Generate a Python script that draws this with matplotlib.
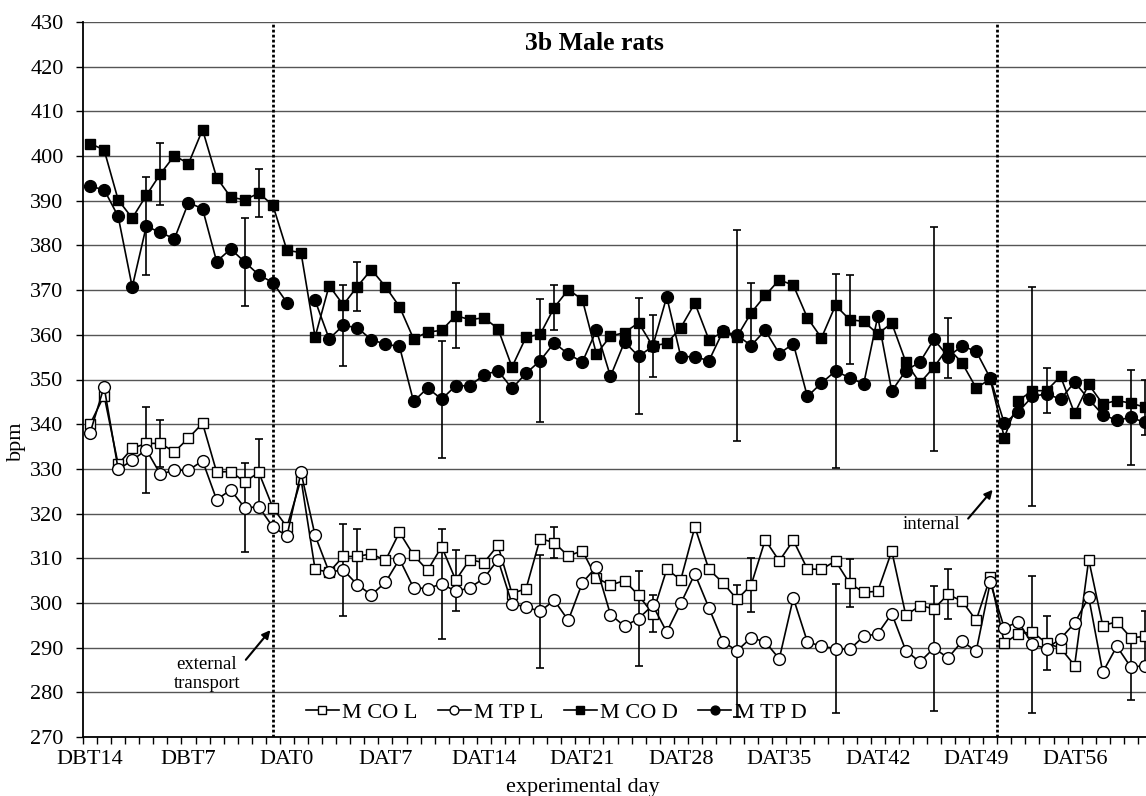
import numpy as np
import matplotlib
matplotlib.use('Agg')
import matplotlib.pyplot as plt

plt.rcParams['font.family'] = ['Liberation Serif', 'DejaVu Serif']

# heart rate (bpm), one value per experimental day, DBT14 ... DAT61
m_co_l = [340.0, 346.4, 331.0, 334.6, 335.7, 335.7, 333.8, 336.9, 340.2, 329.3,
          329.4, 327.1, 329.2, 321.3, 317.0, 327.7, 307.5, 306.9, 310.4, 310.4,
          311.0, 309.5, 315.8, 310.7, 307.3, 312.6, 305.1, 309.7, 309.0, 312.9,
          302.1, 303.2, 314.4, 313.5, 310.5, 311.7, 305.6, 304.0, 305.0, 301.7,
          297.6, 307.5, 305.2, 317.0, 307.5, 304.5, 300.8, 304.0, 314.1, 309.4,
          314.0, 307.6, 307.5, 309.4, 304.4, 302.4, 302.6, 311.6, 297.2, 299.4,
          298.7, 301.9, 300.4, 296.1, 305.8, 291.0, 293.1, 293.5, 291.0, 289.9,
          286.0, 309.7, 294.9, 295.8, 292.2, 292.5]
m_tp_l = [338.0, 348.4, 329.9, 331.9, 334.3, 328.8, 329.7, 329.7, 331.8, 323.1,
          325.3, 321.3, 321.5, 317.0, 315.0, 329.2, 315.1, 306.9, 307.4, 304.1,
          301.8, 304.6, 309.8, 303.4, 303.2, 304.3, 302.6, 303.4, 305.5, 309.7,
          299.8, 299.1, 298.1, 300.6, 296.1, 304.5, 308.1, 297.4, 294.8, 296.5,
          299.5, 293.5, 299.9, 306.5, 298.9, 291.3, 289.3, 292.2, 291.3, 287.5,
          301.1, 291.3, 290.3, 289.8, 289.6, 292.5, 293.1, 297.6, 289.3, 286.8,
          289.9, 287.7, 291.4, 289.2, 304.6, 294.4, 295.8, 290.7, 289.8, 292.0,
          295.5, 301.3, 284.5, 290.3, 285.6, 286.0]
m_co_d = [402.8, 401.4, 390.2, 386.1, 391.2, 396.0, 400.1, 398.3, 405.9, 395.2,
          390.8, 390.2, 391.7, 389.0, 378.9, 378.4, 359.5, 371.0, 366.7, 370.8,
          374.6, 370.8, 366.3, 359.1, 360.6, 361.0, 364.3, 363.4, 363.8, 361.4,
          352.8, 359.5, 360.1, 366.1, 370.1, 367.9, 355.7, 359.7, 360.5, 362.7,
          357.5, 358.1, 361.6, 367.1, 358.9, 360.6, 359.6, 364.9, 368.8, 372.3,
          371.1, 363.8, 359.3, 366.6, 363.4, 363.0, 360.2, 362.6, 353.9, 349.2,
          352.8, 357.1, 353.7, 348.1, 350.1, 337.0, 345.3, 347.5, 347.5, 350.7,
          342.4, 348.9, 344.5, 345.3, 344.7, 343.8]
m_tp_d = [393.2, 392.5, 386.5, 370.7, 384.3, 382.9, 381.5, 389.6, 388.2, 376.4,
          379.2, 376.3, 373.4, 371.7, 367.2, np.nan, 367.7, 359.1, 362.1, 361.6,
          358.9, 357.9, 357.4, 345.1, 348.1, 345.6, 348.6, 348.6, 351.0, 352.0,
          348.0, 351.4, 354.2, 358.2, 355.7, 353.9, 361.0, 350.7, 358.4, 355.2,
          357.4, 368.5, 355.1, 355.1, 354.2, 360.8, 359.9, 357.6, 361.0, 355.8,
          358.0, 346.2, 349.2, 351.9, 350.4, 349.0, 364.1, 347.4, 352.0, 353.9,
          359.0, 355.1, 357.5, 356.3, 350.3, 340.2, 342.8, 346.2, 346.8, 345.6,
          349.4, 345.6, 342.1, 340.9, 341.5, 340.4]

# error bars (SD) on selected days
err_days_co = [5, 12, 19, 26, 33, 40, 47, 54, 61, 68, 75]
err_days_tp = [4, 11, 18, 25, 32, 39, 46, 53, 60, 67, 74]
sd_co_l = [5.3, 7.4, 6.2, 6.8, 3.4, 4.1, 6.0, 5.4, 5.6, 6.0, 5.8]
sd_tp_l = [9.6, 10.0, 10.3, 12.3, 12.7, 10.7, 14.8, 14.5, 14.0, 15.4, 7.3]
sd_co_d = [6.9, 5.3, 5.4, 7.2, 5.0, 7.0, 6.7, 10.0, 6.7, 5.0, 6.2]
sd_tp_d = [11.0, 9.9, 9.1, 13.1, 13.8, 13.0, 23.6, 21.8, 25.1, 24.4, 10.7]

tick_labels = ['DBT14', 'DBT7', 'DAT0', 'DAT7', 'DAT14', 'DAT21', 'DAT28',
               'DAT35', 'DAT42', 'DAT49', 'DAT56']

days = np.arange(len(m_co_l))

fig = plt.figure(figsize=(11.46, 7.96), dpi=100)
ax = fig.add_axes([83 / 1146, 59 / 796, 1069 / 1146, 715 / 796])

series = [
    (m_co_l, 's', 'white', 7.5, 'M CO L', err_days_co, sd_co_l),
    (m_tp_l, 'o', 'white', 8.5, 'M TP L', err_days_tp, sd_tp_l),
    (m_co_d, 's', 'black', 7.5, 'M CO D', err_days_co, sd_co_d),
    (m_tp_d, 'o', 'black', 8.5, 'M TP D', err_days_tp, sd_tp_d),
]
handles = []
for vals, mk, fc, ms, lab, edays, sd in series:
    vals = np.array(vals)
    ax.errorbar(edays, vals[edays], yerr=sd, fmt='none', ecolor='black',
                elinewidth=1.2, capsize=3, capthick=1.2, zorder=2)
    h, = ax.plot(days, vals, color='black', lw=1.2, marker=mk, ms=ms,
                 mfc=fc, mec='black', mew=1.0, label=lab, zorder=3)
    handles.append(h)

# transport markers
ax.axvline(13, color='black', ls=(0, (1, 0.8)), lw=2, zorder=1)
ax.axvline(64.5, color='black', ls=(0, (1, 0.8)), lw=2, zorder=1)

ax.text(8.3, 284.1, 'external\ntransport', ha='center', va='center', fontsize=13.5)
ax.annotate('', xy=(12.95, 294.4), xytext=(10.95, 286.8),
            arrowprops=dict(arrowstyle='-|>', color='black', lw=1.5, mutation_scale=12))
ax.text(59.85, 317.5, 'internal', ha='center', va='center', fontsize=13.5)
ax.annotate('', xy=(64.3, 325.8), xytext=(62.3, 318.4),
            arrowprops=dict(arrowstyle='-|>', color='black', lw=1.5, mutation_scale=12))

ax.text(0.478, 0.9706, '3b Male rats', transform=ax.transAxes, ha='center',
        va='center', fontsize=18.5, fontweight='bold')

ax.set_xlim(-0.5, 75.5)
ax.set_ylim(270, 430)
ax.set_yticks(np.arange(270, 431, 10))
ax.set_xticks(np.arange(0, 76, 7))
ax.set_xticklabels(tick_labels)
ax.set_xticks(np.arange(-0.5, 76, 1), minor=True)
ax.tick_params(axis='x', which='major', length=0, pad=9, labelsize=16)
ax.tick_params(axis='x', which='minor', length=5, width=1, direction='out')
ax.tick_params(axis='y', length=5, width=1, pad=9, labelsize=16)

ax.yaxis.grid(True, color='#555555', lw=1)
ax.set_axisbelow(True)
for s in ['top', 'right']:
    ax.spines[s].set_visible(False)
for s in ['left', 'bottom']:
    ax.spines[s].set_linewidth(1.3)

ax.set_ylabel('bpm', fontsize=16)
ax.yaxis.set_label_coords(-0.0533, 0.414)
ax.set_xlabel('experimental day', fontsize=16)
ax.xaxis.set_label_coords(0.468, -0.0573)

ax.legend(handles=handles, loc='center', bbox_to_anchor=(0.4425, 0.0336), ncol=4,
          frameon=False, fontsize=16, markerscale=0.75, handlelength=1.5,
          handletextpad=0.15, columnspacing=0.9)

fig.savefig('out.png', dpi=100)
